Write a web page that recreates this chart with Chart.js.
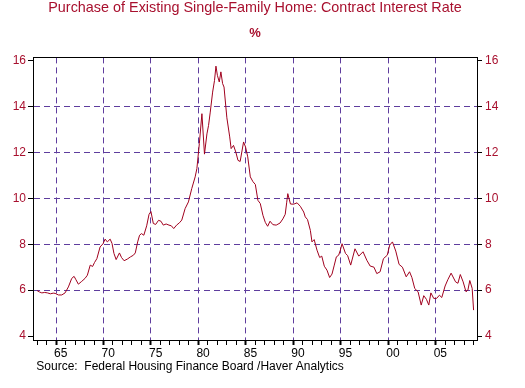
<!DOCTYPE html>
<html>
<head>
<meta charset="utf-8">
<script src="https://cdn.jsdelivr.net/npm/chart.js@4/dist/chart.umd.min.js"></script>
<style>
    html, body { margin: 0; padding: 0; background: #ffffff; }
    canvas { display: block; }
</style>
</head>
<body>
<canvas id="chartTaxa" width="525" height="388"></canvas>
<script>
// Contract interest rate, existing single-family homes (%)
const anos = [
    1963.0, 1963.25, 1963.5, 1963.8, 1964.1, 1964.4, 1964.7, 1964.9, 1965.25, 1965.6,
    1965.95, 1966.3, 1966.65, 1966.9, 1967.1, 1967.35, 1967.7, 1968.05, 1968.3, 1968.6,
    1968.85, 1969.05, 1969.3, 1969.64, 1969.95, 1970.17, 1970.4, 1970.7, 1970.9, 1971.1,
    1971.33, 1971.68, 1971.9, 1972.17, 1972.5, 1972.85, 1973.15, 1973.35, 1973.6, 1973.8,
    1974.0, 1974.25, 1974.55, 1974.8, 1975.0, 1975.25, 1975.5, 1975.8, 1976.05, 1976.3,
    1976.6, 1976.9, 1977.15, 1977.4, 1977.7, 1978.0, 1978.25, 1978.6, 1978.95, 1979.3,
    1979.66, 1979.84, 1980.1, 1980.37, 1980.64, 1980.9, 1981.07, 1981.25, 1981.5, 1981.7,
    1981.85, 1982.0, 1982.2, 1982.37, 1982.55, 1982.7, 1983.0, 1983.3, 1983.45, 1983.7,
    1983.95, 1984.17, 1984.4, 1984.76, 1984.97, 1985.2, 1985.47, 1985.75, 1986.0, 1986.27,
    1986.52, 1986.8, 1987.05, 1987.3, 1987.55, 1987.85, 1988.2, 1988.6, 1988.9, 1989.15,
    1989.3, 1989.42, 1989.7, 1990.03, 1990.4, 1990.74, 1991.1, 1991.26, 1991.5, 1991.8,
    1991.97, 1992.2, 1992.5, 1992.78, 1993.0, 1993.27, 1993.55, 1993.83, 1994.08, 1994.32,
    1994.54, 1994.78, 1994.96, 1995.14, 1995.5, 1995.73, 1996.05, 1996.5, 1996.9, 1997.35,
    1997.75, 1998.1, 1998.5, 1998.8, 1999.15, 1999.5, 1999.9, 2000.16, 2000.45, 2000.8,
    2001.15, 2001.5, 2001.9, 2002.25, 2002.5, 2002.8, 2003.15, 2003.48, 2003.75, 2004.03,
    2004.28, 2004.5, 2004.8, 2005.1, 2005.4, 2005.65, 2006.0, 2006.28, 2006.63, 2007.1,
    2007.35, 2007.6, 2007.9, 2008.2, 2008.4, 2008.6, 2008.85, 2009.0
];
const taxas = [
    5.98, 5.92, 5.88, 5.90, 5.88, 5.84, 5.87, 5.86, 5.79, 5.79,
    5.88, 6.14, 6.51, 6.60, 6.45, 6.26, 6.38, 6.51, 6.65, 7.09,
    7.03, 7.20, 7.37, 7.88, 8.02, 8.22, 8.10, 8.22, 8.03, 7.60,
    7.33, 7.62, 7.42, 7.28, 7.35, 7.45, 7.52, 7.62, 8.10, 8.39,
    8.46, 8.39, 8.80, 9.30, 9.42, 8.90, 8.86, 9.04, 9.00, 8.83,
    8.88, 8.83, 8.80, 8.68, 8.83, 8.93, 9.05, 9.55, 9.84, 10.42,
    10.93, 11.29, 12.38, 13.68, 11.92, 12.80, 13.17, 13.75, 14.62, 15.13,
    15.75, 15.35, 15.06, 15.50, 14.99, 14.84, 13.50, 12.67, 12.16, 12.30,
    12.00, 11.65, 11.60, 12.45, 12.23, 11.80, 10.93, 10.72, 10.60, 9.91,
    9.77, 9.26, 8.95, 8.78, 9.00, 8.85, 8.83, 8.92, 9.10, 9.30,
    9.80, 10.20, 9.75, 9.74, 9.80, 9.65, 9.40, 9.19, 9.07, 8.60,
    8.10, 8.20, 7.74, 7.42, 7.48, 7.04, 6.87, 6.55, 6.70, 7.09,
    7.45, 7.52, 7.74, 8.02, 7.60, 7.50, 7.09, 7.80, 7.48, 7.67,
    7.30, 7.05, 7.00, 6.72, 6.80, 7.37, 7.52, 7.96, 8.10, 7.70,
    7.12, 7.00, 6.58, 6.80, 6.55, 6.07, 5.93, 5.35, 5.76, 5.60,
    5.35, 5.88, 5.64, 5.64, 5.78, 5.68, 6.18, 6.45, 6.74, 6.36,
    6.30, 6.68, 6.36, 5.93, 6.00, 6.42, 6.08, 5.13
];

const anosRotulo = [1965, 1970, 1975, 1980, 1985, 1990, 1995, 2000, 2005];
const textosRotulo = ['65', '70', '75', '80', '85', '90', '95', '00', '05'];
const ticksY = [4, 6, 8, 10, 12, 14, 16];

const VERMELHO = '#a8102e';
const LINHA = '#a0001e';
const ROXO = '#5f3d9e';
const FONTE = 'Arial, "Liberation Sans", sans-serif';

const X_MIN = 1962.57;
const X_MAX = 2009.36;
const Y_MIN = 3.83;
const Y_MAX = 16.13;

function ticksAnuais(scale) {
    const lista = [];
    for (let a = 1963; a <= 2009; a++) lista.push({ value: a });
    scale.ticks = lista;
}

function ticksFixosY(scale) {
    scale.ticks = ticksY.map(v => ({ value: v }));
}

function ehMaior(ctx) {
    return ctx.tick && anosRotulo.includes(ctx.tick.value);
}

const ctx = document.getElementById('chartTaxa').getContext('2d');
new Chart(ctx, {
    type: 'line',
    data: {
        datasets: [{
            data: anos.map((a, i) => ({ x: a, y: taxas[i] })),
            borderColor: LINHA,
            borderWidth: 1,
            pointRadius: 0,
            fill: false,
            tension: 0,
            xAxisID: 'x',
            yAxisID: 'y'
        }]
    },
    options: {
        responsive: false,
        animation: false,
        layout: { padding: 0 },
        plugins: {
            legend: { display: false },
            tooltip: { enabled: false },
            title: {
                display: true,
                fullSize: false,
                text: 'Purchase of Existing Single-Family Home: Contract Interest Rate',
                color: VERMELHO,
                font: { family: FONTE, size: 14.4, weight: 'normal', lineHeight: 1 },
                padding: { top: 1, bottom: 0 }
            },
            subtitle: {
                display: true,
                fullSize: false,
                text: '%',
                color: VERMELHO,
                font: { family: FONTE, size: 13, weight: 'bold', lineHeight: 1 },
                padding: { top: 12, bottom: 17 }
            }
        },
        scales: {
            x: {
                type: 'linear',
                position: 'bottom',
                min: X_MIN,
                max: X_MAX,
                afterBuildTicks: ticksAnuais,
                afterFit: scale => { scale.height = 48; },
                ticks: {
                    autoSkip: false,
                    maxRotation: 0,
                    labelOffset: 4.7,
                    padding: 1,
                    color: '#000000',
                    font: { family: FONTE, size: 12 },
                    callback: v => {
                        const i = anosRotulo.indexOf(v);
                        return i >= 0 ? textosRotulo[i] : '';
                    }
                },
                grid: {
                    color: c => ehMaior(c) ? ROXO : 'rgba(0,0,0,0)',
                    tickColor: '#000000',
                    tickWidth: c => ehMaior(c) ? 2 : 1,
                    tickLength: 5,
                    tickBorderDash: [],
                    lineWidth: 1
                },
                border: { display: true, color: '#000000', width: 1, dash: [6, 4] },
                title: {
                    display: true,
                    align: 'start',
                    text: ' Source:  Federal Housing Finance Board /Haver Analytics',
                    color: '#000000',
                    font: { family: FONTE, size: 12, lineHeight: 1.2 },
                    padding: { top: 0, bottom: 14 }
                }
            },
            xTopo: {
                type: 'linear',
                position: 'top',
                min: X_MIN,
                max: X_MAX,
                ticks: { display: false },
                grid: { drawOnChartArea: false, drawTicks: false },
                border: { display: true, color: '#000000', width: 1 }
            },
            y: {
                position: 'left',
                min: Y_MIN,
                max: Y_MAX,
                afterBuildTicks: ticksFixosY,
                afterFit: scale => { scale.width = 33; },
                ticks: {
                    color: VERMELHO,
                    padding: 2,
                    font: { family: FONTE, size: 12 }
                },
                grid: {
                    color: c => (c.tick && (c.tick.value === 4 || c.tick.value === 16)) ? 'rgba(0,0,0,0)' : ROXO,
                    tickColor: '#000000',
                    tickLength: 5,
                    tickBorderDash: [],
                    lineWidth: 1
                },
                border: { display: true, color: '#000000', width: 1, dash: [6, 4] }
            },
            yDireita: {
                position: 'right',
                min: Y_MIN,
                max: Y_MAX,
                afterBuildTicks: ticksFixosY,
                afterFit: scale => { scale.width = 48; },
                ticks: {
                    color: VERMELHO,
                    padding: 3,
                    font: { family: FONTE, size: 12 }
                },
                grid: {
                    drawOnChartArea: false,
                    tickColor: '#000000',
                    tickLength: 5
                },
                border: { display: true, color: '#000000', width: 1 }
            }
        }
    }
});
</script>
</body>
</html>
